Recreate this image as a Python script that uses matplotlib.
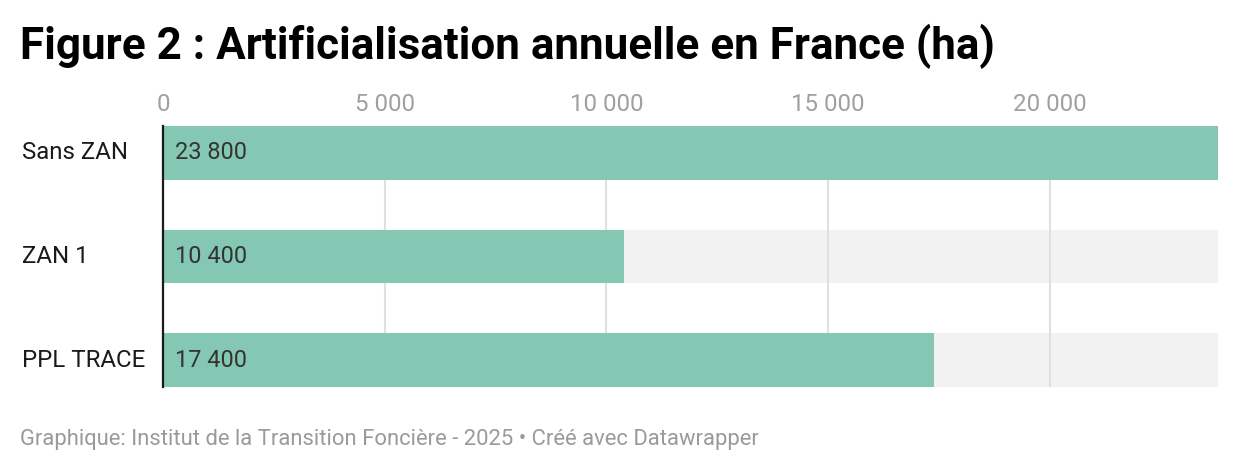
import matplotlib.pyplot as plt
from matplotlib.transforms import blended_transform_factory

plt.rcParams['font.family'] = ['Roboto', 'DejaVu Sans']

categories = ["Sans ZAN", "ZAN 1", "PPL TRACE"]
values = [23800, 10400, 17400]
value_labels = ["23 800", "10 400", "17 400"]
ticks = [0, 5000, 10000, 15000, 20000]
tick_labels = ["0", "5 000", "10 000", "15 000", "20 000"]
xmax = 23800

W, H = 1240, 474
fig = plt.figure(figsize=(W / 100, H / 100), dpi=100)
# axes box in pixels: left 163, right 1218, top 126, bottom 387
ax = fig.add_axes([163 / W, 1 - 387 / H, (1218 - 163) / W, (387 - 126) / H])

ypos = list(range(len(categories)))
bar_h = 0.52

# grey background bars, then grid, then the real bars
ax.barh(ypos, [xmax] * len(ypos), height=bar_h, color="#f2f2f2", zorder=1)
for t in ticks[1:]:
    ax.axvline(t, color="#e0e0e0", lw=1.5, zorder=2)
ax.barh(ypos, values, height=bar_h, color="#84c7b3", zorder=3)
ax.axvline(0, color="#1a1a1a", lw=1.6, zorder=4, clip_on=False)

for y, lab in zip(ypos, value_labels):
    ax.text(260, y, lab, va="center", ha="left", fontsize=16.9, color="#333333", zorder=5)

ax.set_xlim(0, xmax)
ax.set_ylim(len(ypos) - 1 + bar_h / 2, -bar_h / 2)
ax.xaxis.tick_top()
ax.set_xticks(ticks)
ax.set_xticklabels(tick_labels, fontsize=17.4, color="#a0a0a0")
ax.tick_params(axis="x", length=0, pad=7.5)
ax.set_yticks([])
for s in ax.spines.values():
    s.set_visible(False)

label_tr = blended_transform_factory(fig.transFigure, ax.transData)
for y, cat in zip(ypos, categories):
    ax.text(22 / W, y, cat, transform=label_tr, fontsize=17.3, color="#1a1a1a",
            va="center", ha="left")

fig.text(20 / W, 1 - 46 / H, "Figure 2 : Artificialisation annuelle en France (ha)",
         fontsize=31.7, fontweight="bold", color="#000000", va="center", ha="left")
fig.text(20 / W, 1 - 440 / H,
         "Graphique: Institut de la Transition Foncière - 2025 • Créé avec Datawrapper",
         fontsize=15.8, color="#9a9a9a", va="center", ha="left")

fig.savefig("out.png", dpi=100, facecolor="white")
